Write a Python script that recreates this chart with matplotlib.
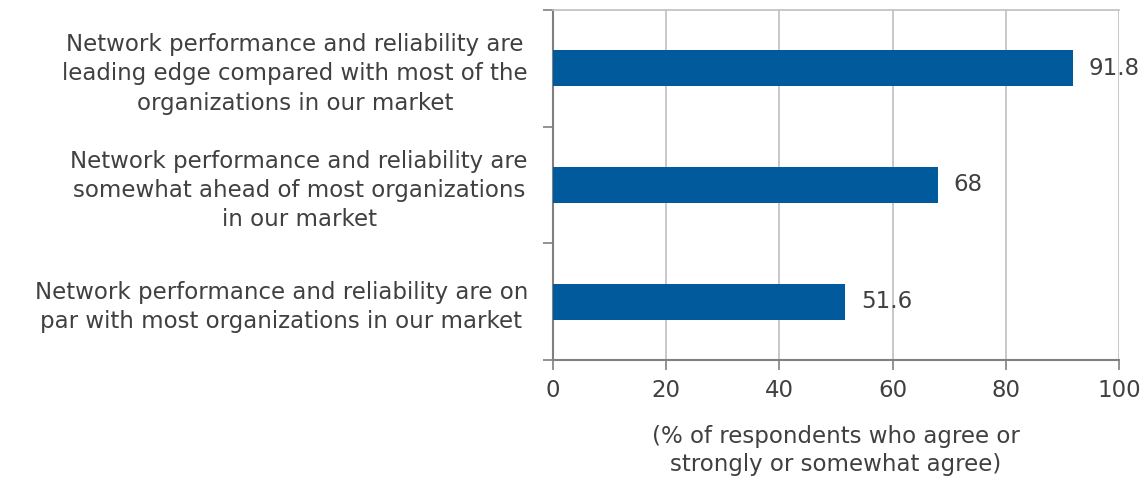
import matplotlib
matplotlib.use("Agg")
import matplotlib.pyplot as plt

categories = [
    "Network performance and reliability are\nleading edge compared with most of the\norganizations in our market",
    "Network performance and reliability are\nsomewhat ahead of most organizations\nin our market",
    "Network performance and reliability are on\npar with most organizations in our market",
]
values = [91.8, 68, 51.6]
value_labels = ["91.8", "68", "51.6"]
xticks = [0, 20, 40, 60, 80, 100]
xlabel = "(% of respondents who agree or\nstrongly or somewhat agree)"

plt.rcParams['font.family'] = ['DejaVu Sans']
text_color = '#404040'
fig = plt.figure(figsize=(11.45, 4.84), dpi=100)
ax = fig.add_axes([553/1145, 1-360/484, (1119-553)/1145, 350/484])

ypos = [2, 1, 0]
ax.barh(ypos, values, height=0.31, color='#005A9C', zorder=3)
for y, v, lab in zip(ypos, values, value_labels):
    ax.text(v + 2.8, y, lab, va='center', ha='left', fontsize=16.5, color=text_color)

ax.set_xlim(0, 100)
ax.set_ylim(-0.5, 2.5)
ax.set_xticks(xticks)
ax.set_xticklabels([str(t) for t in xticks], fontsize=16.5, color=text_color)
ax.set_yticks(ypos)
ax.set_yticklabels(categories, fontsize=16.5, color=text_color,
                   multialignment='center', linespacing=1.35)
ax.set_yticks([-0.5, 0.5, 1.5, 2.5], minor=True)
ax.tick_params(axis='y', which='major', length=0, pad=18)
ax.tick_params(axis='y', which='minor', length=7, color='#808080', width=1.2)
ax.tick_params(axis='x', length=7, color='#808080', width=1.2, pad=7)
ax.xaxis.grid(True, color='#BFBFBF', linewidth=1.2, zorder=0)
for s in ['left', 'bottom']:
    ax.spines[s].set_color('#808080')
    ax.spines[s].set_linewidth(1.5)
ax.spines['right'].set_visible(False)
ax.spines['top'].set_color('#BFBFBF')
ax.spines['top'].set_linewidth(1.2)
ax.set_xlabel(xlabel, fontsize=16.5, color=text_color, labelpad=16, linespacing=1.3)

fig.savefig("out.png", dpi=100)
